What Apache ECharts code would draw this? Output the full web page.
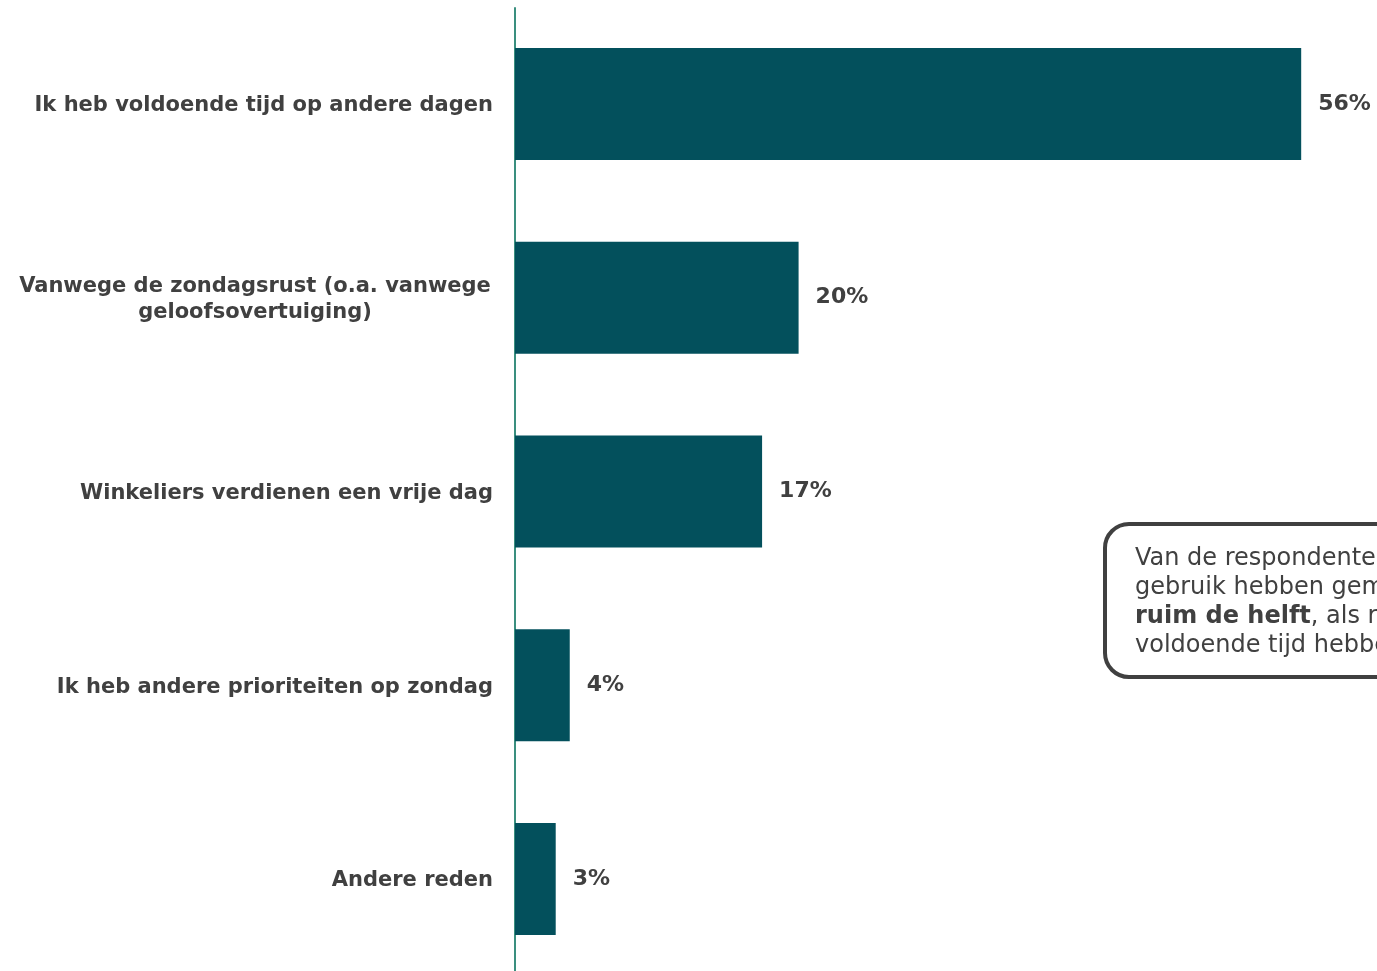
<!DOCTYPE html>
<html><head><meta charset="utf-8">
<script src="https://cdn.jsdelivr.net/npm/echarts@6/dist/echarts.min.js"></script>
<style>html,body{margin:0;padding:0;background:#fff}#c{width:1377px;height:971px}</style>
</head><body><div id="c"></div>
<script>
var categories = ['Ik heb voldoende tijd op andere dagen', 'Vanwege de zondagsrust (o.a. vanwege geloofsovertuiging)', 'Winkeliers verdienen een vrije dag', 'Ik heb andere prioriteiten op zondag', 'Andere reden'];
var values = [56, 20.2, 17.6, 3.9, 2.9];
var valueLabels = ['56%', '20%', '17%', '4%', '3%'];
var noteLines = ['Van de respondenten die geen', 'gebruik hebben gemaakt, noemt', '{b|ruim de helft}, als reden dat zij', 'voldoende tijd hebben op andere dagen.'];

var FONT = 'DejaVu Sans, Verdana, sans-serif';
var chart = echarts.init(document.getElementById('c'), null, {renderer: 'canvas'});
chart.setOption({
  animation: false,
  grid: [
    {left: 515, top: 104, right: 0, height: 775, containLabel: false},
    {left: 515, top: 8, right: 0, bottom: 0, containLabel: false}
  ],
  xAxis: [
    {type: 'value', min: 0, max: 61.4, show: false, gridIndex: 0},
    {type: 'value', min: 0, max: 1, show: false, gridIndex: 1}
  ],
  yAxis: [{
    type: 'category', inverse: true, data: categories, boundaryGap: false, gridIndex: 0,
    axisLine: {show: false},
    axisTick: {show: false},
    splitLine: {show: false},
    axisLabel: {
      margin: 22, align: 'right', color: '#404040', fontFamily: FONT, fontWeight: 'bold', fontSize: 21,
      padding: [4, 0, 0, 0],
      formatter: function (v) {
        if (v.indexOf('zondagsrust') >= 0) {
          return '{c|Vanwege de zondagsrust (o.a. vanwege}\n{c|geloofsovertuiging)}';
        }
        return v;
      },
      rich: {c: {width: 476, align: 'center', color: '#404040', fontFamily: FONT, fontWeight: 'bold', fontSize: 21, lineHeight: 26}}
    }
  }, {
    type: 'value', gridIndex: 1, min: 0, max: 1,
    axisLine: {show: true, onZero: false, lineStyle: {color: '#3a8f7f', width: 2}},
    axisTick: {show: false}, axisLabel: {show: false}, splitLine: {show: false}
  }],
  series: [{
    type: 'bar', data: values, barWidth: 112, xAxisIndex: 0, yAxisIndex: 0,
    itemStyle: {color: '#03505c'},
    label: {
      show: true, position: 'right', distance: 17, color: '#404040', fontFamily: FONT, fontWeight: 'bold', fontSize: 22,
      padding: [4, 0, 0, 0],
      formatter: function (p) { return valueLabels[p.dataIndex]; }
    }
  }],
  graphic: [{
    type: 'group', left: 1103, top: 522,
    children: [
      {type: 'rect', shape: {x: 2, y: 2, width: 420, height: 153, r: 24}, style: {fill: '#fff', stroke: '#404040', lineWidth: 4}},
      {type: 'text', left: 32, top: 22, style: {
        text: noteLines.join('\n'), fill: '#404040', font: '24px ' + FONT, lineHeight: 29,
        rich: {b: {fontWeight: 'bold', fontSize: 24, fontFamily: FONT, fill: '#404040', lineHeight: 29}}
      }}
    ]
  }]
});
</script></body></html>
